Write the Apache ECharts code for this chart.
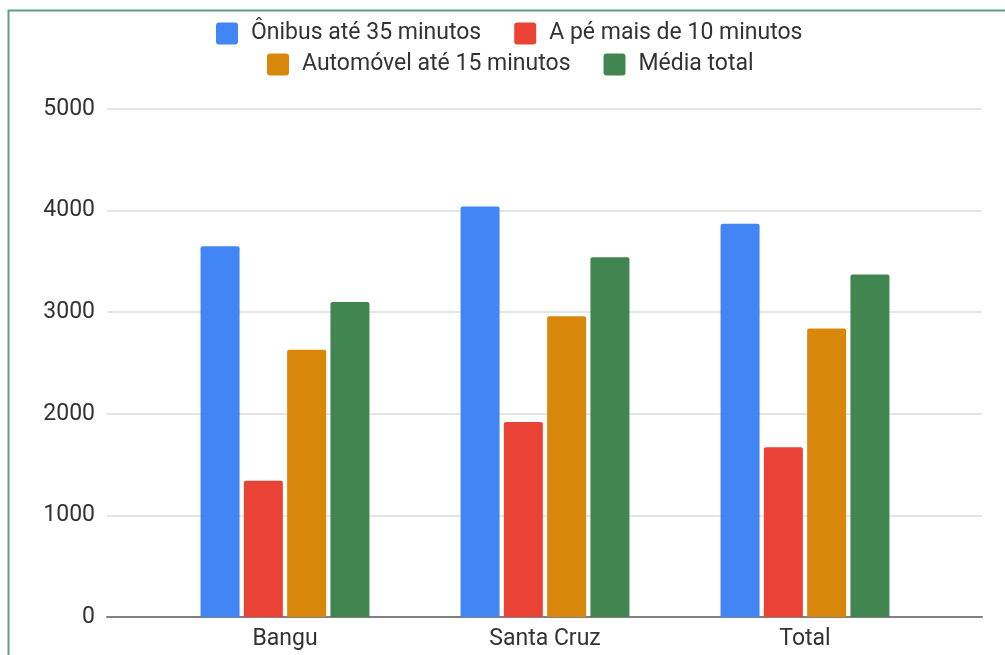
<!DOCTYPE html>
<html>
<head>
<meta charset="utf-8">
<script src="https://cdn.jsdelivr.net/npm/echarts@6/dist/echarts.min.js"></script>
<style>
  html, body { margin: 0; padding: 0; background: #fff; }
  #chart { width: 1005px; height: 655px; }
</style>
</head>
<body>
<div id="chart"></div>
<script>
// Bairros comparados
const categories = ['Bangu', 'Santa Cruz', 'Total'];

// Valores por modo de transporte
const onibus35 = [3650, 4040, 3870];
const ape10 = [1340, 1920, 1670];
const automovel15 = [2630, 2960, 2840];
const mediaTotal = [3100, 3540, 3370];

const seriesNames = ['Ônibus até 35 minutos', 'A pé mais de 10 minutos', 'Automóvel até 15 minutos', 'Média total'];
const seriesColors = ['#4285f4', '#ea4335', '#d9870a', '#418650'];
const seriesValues = [onibus35, ape10, automovel15, mediaTotal];

const yTicks = { min: 0, max: 5000, interval: 1000 };

const font = 'Roboto, "Noto Sans", sans-serif';
const chart = echarts.init(document.getElementById('chart'));

// square legend marker with slightly rounded corners
const squareIcon = 'path://M3,0 H19 A3,3 0 0 1 22,3 V19 A3,3 0 0 1 19,22 H3 A3,3 0 0 1 0,19 V3 A3,3 0 0 1 3,0 Z';

const legendText = {
  color: '#333', fontSize: 23, fontFamily: font,
  lineHeight: 22, padding: [0, 0, 0, 8]
};

chart.setOption({
  animation: false,
  graphic: [{
    type: 'rect',
    shape: { x: 8.5, y: 10.5, width: 1020, height: 680 },
    style: { fill: 'none', stroke: '#5e9e8c', lineWidth: 2 },
    silent: true
  }],
  legend: [
    {
      data: seriesNames.slice(0, 2),
      left: 211, top: 17,
      itemWidth: 22, itemHeight: 22, itemGap: 33,
      icon: squareIcon,
      textStyle: legendText
    },
    {
      data: seriesNames.slice(2, 4),
      left: 262, top: 48,
      itemWidth: 22, itemHeight: 22, itemGap: 33,
      icon: squareIcon,
      textStyle: legendText
    }
  ],
  grid: [
    { left: 107, right: 23, top: 109, bottom: 38 },
    { left: 155, right: 70, top: 109, bottom: 38 }
  ],
  xAxis: [
    {
      gridIndex: 0, type: 'value', min: 0, max: 1,
      axisLine: { show: true, lineStyle: { color: '#808080', width: 2 } },
      axisTick: { show: false }, axisLabel: { show: false }, splitLine: { show: false }
    },
    {
      gridIndex: 1, type: 'category', data: categories,
      axisLine: { show: false }, axisTick: { show: false },
      axisLabel: { color: '#333', fontSize: 23, fontFamily: font, margin: 11 }
    }
  ],
  yAxis: [
    {
      gridIndex: 0, type: 'value', ...yTicks,
      axisLine: { show: false }, axisTick: { show: false },
      axisLabel: {
        color: '#333', fontSize: 23, fontFamily: font, margin: 12,
        formatter: (v) => String(v)
      },
      splitLine: { lineStyle: { color: '#dcdcdc', width: 1.5 } }
    },
    {
      gridIndex: 1, type: 'value', ...yTicks,
      show: false, splitLine: { show: false }
    }
  ],
  series: seriesNames.map((name, i) => ({
    name,
    type: 'bar',
    xAxisIndex: 1,
    yAxisIndex: 1,
    data: seriesValues[i],
    barWidth: 39,
    barGap: '11%',
    itemStyle: { color: seriesColors[i], borderRadius: [2, 2, 0, 0] }
  })),
  color: seriesColors
});
</script>
</body>
</html>
